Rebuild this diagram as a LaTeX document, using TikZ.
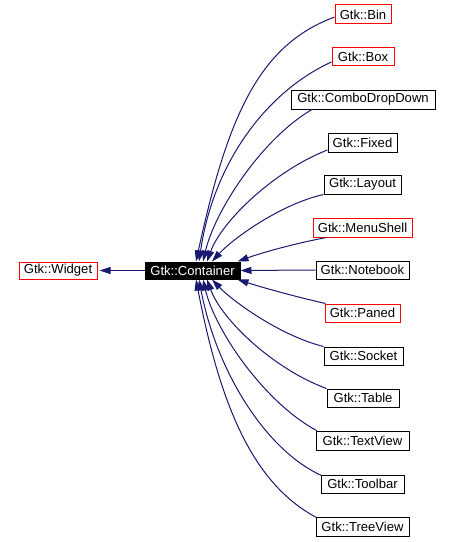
\documentclass[tikz,border=0pt]{standalone}
\usepackage{fontspec}
\setmainfont{Liberation Sans}
\usetikzlibrary{arrows.meta,calc}
\newdimen\pxu \pxu=0.75pt
\definecolor{edgeblue}{HTML}{191970}
\begin{document}
\begin{tikzpicture}[x=0.75pt,y=-0.75pt,
  cls/.style={draw=black, line width=0.75pt, inner sep=0pt, font=\fontsize{9.8}{11}\selectfont, text=black},
  redcls/.style={cls, draw=red},
  cur/.style={cls, fill=black, text=white},
  edge/.style={draw=edgeblue, line width=0.75pt, -{Triangle[length=8.25pt,width=5.25pt]}}]
\useasboundingbox (0,0) rectangle (452,542);
% nodes
\node[redcls, minimum width=78\pxu, minimum height=17\pxu] (widget) at (58,270.5) {Gtk::Widget};
\node[cur, minimum width=95\pxu, minimum height=17\pxu] (cont) at (192.5,270.5) {Gtk::Container};
\node[redcls, minimum width=56\pxu, minimum height=19\pxu] (bin) at (363,14.5) {Gtk::Bin};
\node[redcls, minimum width=62\pxu, minimum height=18\pxu] (box) at (363,57) {Gtk::Box};
\node[cls, minimum width=144\pxu, minimum height=19\pxu] (combo) at (363,99.5) {Gtk::ComboDropDown};
\node[cls, minimum width=69\pxu, minimum height=19\pxu] (fixed) at (362.5,142.5) {Gtk::Fixed};
\node[cls, minimum width=77\pxu, minimum height=19\pxu] (layout) at (362.5,184.5) {Gtk::Layout};
\node[redcls, minimum width=99\pxu, minimum height=19\pxu] (menushell) at (362.5,227.5) {Gtk::MenuShell};
\node[cls, minimum width=93\pxu, minimum height=18\pxu] (notebook) at (362.5,270) {Gtk::Notebook};
\node[redcls, minimum width=75\pxu, minimum height=18\pxu] (paned) at (362.5,313) {Gtk::Paned};
\node[cls, minimum width=79\pxu, minimum height=18\pxu] (socket) at (363.5,356) {Gtk::Socket};
\node[cls, minimum width=72\pxu, minimum height=18\pxu] (table) at (363,398) {Gtk::Table};
\node[cls, minimum width=93\pxu, minimum height=19\pxu] (textview) at (362.5,440.5) {Gtk::TextView};
\node[cls, minimum width=83\pxu, minimum height=18\pxu] (toolbar) at (362.5,484) {Gtk::Toolbar};
\node[cls, minimum width=93\pxu, minimum height=19\pxu] (treeview) at (362.5,526.5) {Gtk::TreeView};
% edges
\draw[edge] (cont.west) -- ($(widget.east)+(2,0)$);
\draw[edge] ($(bin.west)+(0,2.5)$) .. controls +(-75,28) and +(32,-147) .. ($(cont.north)+(3.5,0)$);
\draw[edge] ($(box.west)+(0,5)$) .. controls +(-62,28) and +(15,-102) .. ($(cont.north)+(6.5,0)$);
\draw[edge] ($(combo.south)+(-51,0)$) .. controls +(-50,29) and +(12,-51) .. ($(cont.north)+(10.5,0)$);
\draw[edge] ($(fixed.west)+(0,7.5)$) .. controls +(-52,20) and +(15,-41) .. ($(cont.north)+(14.5,0)$);
\draw[edge] (layout.south west) .. controls +(-44,10) and +(20,-22) .. ($(cont.north)+(19.5,0)$);
\draw[edge] ($(menushell.south west)+(14,0)$) .. controls +(-32,6) and +(25,-9) .. ($(cont.north east)+(-3,0)$);
\draw[edge] (notebook.west) -- (cont.east);
\draw[edge] ($(paned.north west)+(1,0)$) .. controls +(-31,-7) and +(25,8) .. ($(cont.south east)+(-3,0)$);
\draw[edge] (socket.north west) .. controls +(-44,-11) and +(20,21) .. ($(cont.south)+(19.5,0)$);
\draw[edge] (table.north west) .. controls +(-52,-19) and +(15,41) .. ($(cont.south)+(14.5,0)$);
\draw[edge] ($(textview.north west)+(1,0)$) .. controls +(-52,-28) and +(12,51) .. ($(cont.south)+(10.5,0)$);
\draw[edge] ($(toolbar.north west)+(1,1)$) .. controls +(-57,-26) and +(17,90) .. ($(cont.south)+(6.5,0)$);
\draw[edge] ($(treeview.north west)+(1,1)$) .. controls +(-62,-33) and +(25,130) .. ($(cont.south)+(3.5,0)$);
\end{tikzpicture}
\end{document}
